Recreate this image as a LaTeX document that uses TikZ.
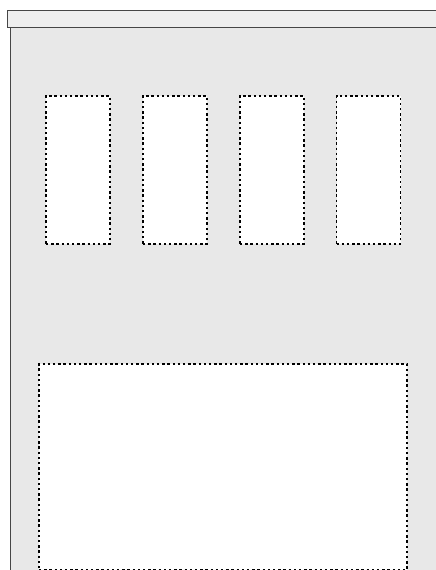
\documentclass[tikz,border=0pt]{standalone}
\usetikzlibrary{positioning}
\definecolor{titlebar}{RGB}{238,238,238}
\definecolor{pane}{RGB}{232,232,232}
\definecolor{frameline}{RGB}{70,70,70}

\begin{document}
\begin{tikzpicture}[
  x=1pt, y=-1pt,
  slot/.style={draw=black, fill=white, line width=1.5pt,
               dash pattern=on 2.4pt off 2.8pt,
               inner sep=0pt, minimum width=64pt, minimum height=148pt},
  panel/.style={draw=black, fill=white, line width=1.5pt,
                dash pattern=on 2.4pt off 2.8pt,
                inner sep=0pt, minimum width=368pt, minimum height=206pt},
]
\useasboundingbox (0,0) rectangle (436,570);

% window frame
\fill[pane] (10,27) rectangle (440,580);
\draw[frameline, line width=0.8pt] (10.5,27) -- (10.5,580);
\draw[frameline, fill=titlebar, line width=0.8pt] (7.5,10.5) rectangle (440,27);

% top row of slots
\node[slot] (s1) at (78,170)  {};
\node[slot] (s2) at (175,170) {};
\node[slot] (s3) at (272,170) {};
\node[slot] (s4) at (368.5,170) {};

% lower panel
\node[panel] (big) at (223,467) {};

\end{tikzpicture}
\end{document}
